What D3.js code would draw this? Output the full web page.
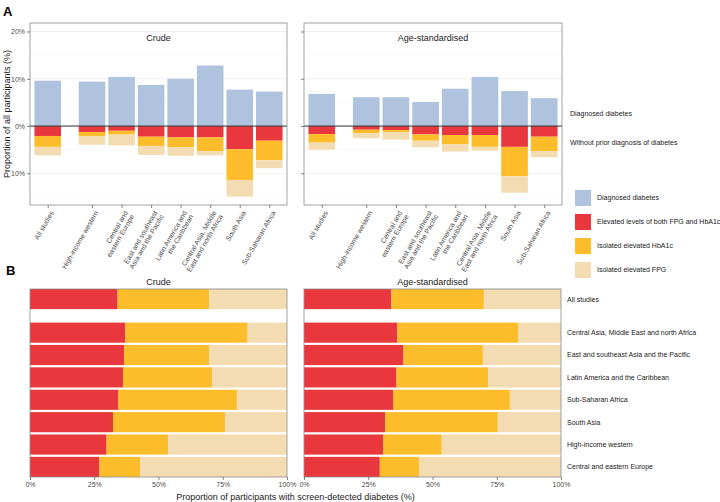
<!DOCTYPE html>
<html><head><meta charset="utf-8">
<script src="https://cdn.jsdelivr.net/npm/d3@7"></script>
<style>
body{margin:0;background:#fff;}
text{font-family:"Liberation Sans",Arial,sans-serif;}
</style></head>
<body><svg id="c" width="720" height="502"></svg>
<script>
// ---------- DATA ----------
const regionsA = ["All studies","High-income western","Central and eastern Europe","East and southeast Asia and the Pacific","Latin America and the Caribbean","Central Asia, Middle East and north Africa","South Asia","Sub-Saharan Africa"];
const labelsA = [["All studies"],["High-income western"],["Central and","eastern Europe"],["East and southeast","Asia and the Pacific"],["Latin America and","the Caribbean"],["Central Asia, Middle","East and north Africa"],["South Asia"],["Sub-Saharan Africa"]];
const slotPos = [0,1.5,2.5,3.5,4.5,5.5,6.5,7.5];

// Panel A (% of all participants)
const crudeDiagnosed = [9.6,9.4,10.4,8.7,10.0,12.8,7.7,7.3];
const crudeBoth      = [2.1,1.27,1.0,2.25,2.4,2.4,4.9,3.1];
const crudeHbA1c     = [2.3,0.83,0.8,1.95,2.1,2.95,6.5,4.1];
const crudeFPG       = [1.8,1.85,2.3,1.9,1.8,0.85,3.5,1.7];
const ageDiagnosed   = [6.8,6.1,6.1,5.1,7.9,10.4,7.4,5.9];
const ageBoth        = [1.7,0.78,0.85,1.76,1.9,1.9,4.4,2.25];
const ageHbA1c       = [1.8,0.72,0.42,1.34,1.9,2.5,6.2,3.05];
const ageFPG         = [1.5,1.1,1.63,1.4,1.6,0.8,3.5,1.3];
const yTicksA = [-10,0,10,20];

// Panel B (% of screen-detected diabetes)
const regionsB = ["All studies","Central Asia, Middle East and north Africa","East and southeast Asia and the Pacific","Latin America and the Caribbean","Sub-Saharan Africa","South Asia","High-income western","Central and eastern Europe"];
const crudeBothB  = [34.1,37.1,36.6,36.2,34.4,32.3,29.8,27.0];
const crudeHbA1cB = [35.7,47.6,33.2,34.6,46.1,43.6,24.0,15.9];
const crudeFPGB   = [30.2,15.3,30.2,29.2,19.5,24.1,46.2,57.1];
const ageBothB    = [34.0,36.3,38.7,36.0,34.8,31.6,30.9,29.5];
const ageHbA1cB   = [36.0,47.1,30.9,35.6,45.3,43.8,22.7,15.3];
const ageFPGB     = [30.0,16.6,30.4,28.4,19.9,24.6,46.4,55.2];
const xTicksB = [0,25,50,75,100];

const legendLabels = ["Diagnosed diabetes","Elevated levels of both FPG and HbA1c","Isolated elevated HbA1c","Isolated elevated FPG"];
const colors = ["#b0c3de","#e8383d","#fdbd2a","#f4dcb2"];

// ---------- DRAW ----------
const svg = d3.select("#c");
const txtDark = "#1a1a1a", txtGray = "#4d4d4d", border = "#8c8c8c";

// panel A
const yA = d3.scaleLinear().domain([-16.7,21.8]).range([205,23]);
const panelsA = [
  {title:"Crude", x0:30, x1:287, diag:crudeDiagnosed, both:crudeBoth, hb:crudeHbA1c, fpg:crudeFPG, labels:true},
  {title:"Age-standardised", x0:304, x1:562, diag:ageDiagnosed, both:ageBoth, hb:ageHbA1c, fpg:ageFPG, labels:false}
];
panelsA.forEach(p=>{
  const x = d3.scaleLinear().domain([-0.6,8.1]).range([p.x0,p.x1]);
  const g = svg.append("g");
  // grid
  [-15,-5,5,15].forEach(v=>g.append("line").attr("x1",p.x0).attr("x2",p.x1).attr("y1",yA(v)).attr("y2",yA(v)).attr("stroke","#f2f2f2").attr("stroke-width",0.5));
  yTicksA.forEach(v=>g.append("line").attr("x1",p.x0).attr("x2",p.x1).attr("y1",yA(v)).attr("y2",yA(v)).attr("stroke","#ebebeb").attr("stroke-width",0.8));
  const bw = x(0.9)-x(0);
  regionsA.forEach((r,i)=>{
    const cx = x(slotPos[i]);
    g.append("rect").attr("x",cx-bw/2).attr("width",bw).attr("y",yA(p.diag[i])).attr("height",yA(0)-yA(p.diag[i])).attr("fill",colors[0]);
    const segs=[p.both[i],p.hb[i],p.fpg[i]];
    let acc=0;
    segs.forEach((s,k)=>{
      g.append("rect").attr("x",cx-bw/2).attr("width",bw).attr("y",yA(-acc)).attr("height",yA(-(acc+s))-yA(-acc)).attr("fill",colors[k+1]);
      acc+=s;
    });
  });
  g.append("line").attr("x1",p.x0).attr("x2",p.x1).attr("y1",yA(0)).attr("y2",yA(0)).attr("stroke","#333").attr("stroke-width",1);
  g.append("rect").attr("x",p.x0).attr("y",23).attr("width",p.x1-p.x0).attr("height",182).attr("fill","none").attr("stroke",border).attr("stroke-width",0.8);
  g.append("text").attr("x",(p.x0+p.x1)/2).attr("y",41).attr("text-anchor","middle").attr("font-size",9).attr("fill",txtDark).text(p.title);
  // y axis
  const ax = svg.append("g").attr("transform",`translate(${p.x0},0)`).call(d3.axisLeft(yA).tickValues(yTicksA).tickSize(3).tickPadding(2).tickFormat(d=>Math.abs(d)+"%"));
  ax.select(".domain").remove();
  ax.selectAll(".tick line").attr("stroke","#333").attr("stroke-width",0.6);
  ax.selectAll(".tick text").attr("font-size",7).attr("fill",txtGray).attr("font-family","Liberation Sans, Arial, sans-serif");
  if(!p.labels) ax.selectAll(".tick text").remove();
  // x ticks + labels
  const xa = svg.append("g").attr("transform","translate(0,205)").call(d3.axisBottom(x).tickValues(slotPos).tickSize(3).tickFormat(""));
  xa.select(".domain").remove();
  xa.selectAll(".tick line").attr("stroke","#333").attr("stroke-width",0.6);
  regionsA.forEach((r,i)=>{
    const t = svg.append("text").attr("transform",`translate(${x(slotPos[i])+2},210) rotate(-60)`)
      .attr("text-anchor","end").attr("font-size",7).attr("fill",txtGray);
    labelsA[i].forEach((ln,j)=>t.append("tspan").attr("x",0).attr("dy",j===0?"0.75em":"1.05em").text(ln));
  });
});
svg.append("text").attr("transform","translate(10,114) rotate(-90)").attr("text-anchor","middle").attr("font-size",9).attr("fill",txtDark).text("Proportion of all participants (%)");
svg.append("text").attr("x",570).attr("y",yA(2.2)).attr("font-size",7).attr("fill",txtDark).text("Diagnosed diabetes");
svg.append("text").attr("x",570).attr("y",yA(-4.1)).attr("font-size",7).attr("fill",txtDark).text("Without prior diagnosis of diabetes");

// legend
legendLabels.forEach((l,i)=>{
  svg.append("rect").attr("x",575).attr("y",190+i*24).attr("width",16).attr("height",16).attr("fill",colors[i]);
  svg.append("text").attr("x",597).attr("y",198+i*24).attr("dy","0.35em").attr("font-size",7).attr("fill",txtDark).text(l);
});

// panel B
const yB = d3.scaleLinear().domain([-0.45,7.95]).range([289,477]);
const panelsB = [
  {title:"Crude", x0:30, x1:287, both:crudeBothB, hb:crudeHbA1cB, fpg:crudeFPGB},
  {title:"Age-standardised", x0:304, x1:561, both:ageBothB, hb:ageHbA1cB, fpg:ageFPGB}
];
panelsB.forEach(p=>{
  const x = d3.scaleLinear().domain([0,100]).range([p.x0,p.x1]);
  const g = svg.append("g");
  const bh = yB(0.9)-yB(0);
  regionsB.forEach((r,i)=>{
    const cy = yB(slotPos[i]);
    let acc=0;
    [p.both[i],p.hb[i],p.fpg[i]].forEach((s,k)=>{
      g.append("rect").attr("x",x(acc)).attr("width",x(acc+s)-x(acc)).attr("y",cy-bh/2).attr("height",bh).attr("fill",colors[k+1]);
      acc+=s;
    });
  });
  g.append("rect").attr("x",p.x0).attr("y",289).attr("width",p.x1-p.x0).attr("height",188).attr("fill","none").attr("stroke",border).attr("stroke-width",0.8);
  g.append("text").attr("x",(p.x0+p.x1)/2).attr("y",285).attr("text-anchor","middle").attr("font-size",9).attr("fill",txtDark).text(p.title);
  const ax = svg.append("g").attr("transform","translate(0,477)").call(d3.axisBottom(x).tickValues(xTicksB).tickSize(3).tickPadding(2).tickFormat(d=>d+"%"));
  ax.select(".domain").remove();
  ax.selectAll(".tick line").attr("stroke","#333").attr("stroke-width",0.6);
  ax.selectAll(".tick text").attr("font-size",7).attr("fill",txtGray).attr("font-family","Liberation Sans, Arial, sans-serif");
});
regionsB.forEach((r,i)=>{
  svg.append("text").attr("x",567).attr("y",yB(slotPos[i])).attr("dy","0.35em").attr("font-size",7).attr("fill",txtDark).text(r);
});
svg.append("text").attr("x",295.5).attr("y",500).attr("text-anchor","middle").attr("font-size",9).attr("fill",txtDark).text("Proportion of participants with screen-detected diabetes (%)");

svg.append("text").attr("x",3).attr("y",16).attr("font-size",13).attr("font-weight","bold").attr("fill","#000").text("A");
svg.append("text").attr("x",6).attr("y",275).attr("font-size",13).attr("font-weight","bold").attr("fill","#000").text("B");
</script></body></html>
